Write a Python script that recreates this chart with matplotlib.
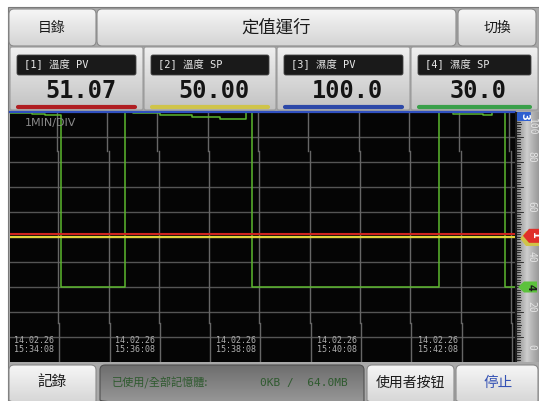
import numpy as np
import matplotlib
matplotlib.use('Agg')
import matplotlib.pyplot as plt
from matplotlib.patches import FancyBboxPatch, Polygon, Rectangle
from matplotlib.colors import LinearSegmentedColormap

plt.rcParams['font.family'] = ['DejaVu Sans', 'Noto Sans CJK TC']
MONO = ['DejaVu Sans Mono', 'Noto Sans CJK TC']
CJK = ['Noto Sans CJK TC', 'DejaVu Sans']

W, H = 539, 401

# ---- data ----
title = '定值運行'
btn_left, btn_right = '目錄', '切換'
ch_labels = ['[1] 溫度 PV', '[2] 溫度 SP', '[3] 濕度 PV', '[4] 濕度 SP']
ch_values = [51.07, 50.00, 100.0, 30.0]
ch_text = ['51.07', '50.00', '100.0', '30.0']
ch_colors = ['#b01e22', '#cfc44a', '#2c48a8', '#3aa04a']
ch_tags = ['1', '2', '3', '4']

# time axis in minutes from left edge of window, 1 min per division
t_end = 10.04
t_grid = [0.96, 1.96, 2.96, 3.96, 4.96, 5.96, 6.96, 7.96, 8.96, 9.96]
t_stamp = [0.08, 2.09, 4.10, 6.10, 8.11]
stamp_date = ['14.02.26'] * 5
stamp_time = ['15:34:08', '15:36:08', '15:38:08', '15:40:08', '15:42:08']

# constant traces
t_flat = [0, t_end]
temp_pv = [51.07, 51.07]
temp_sp = [50.0, 50.0]
hum_pv = [100.0, 100.0]

# stepping trace (steps-post)
t_step = [0, 0.44, 0.70, 1.02, 2.29, 2.45, 2.98, 3.62, 4.17, 4.69, 4.81,
          8.53, 8.81, 9.40, 9.58, 9.84, t_end]
v_step = [99.4, 99.0, 98.6, 30, 100, 99.4, 98.6, 98.0, 97.2, 100, 30,
          100, 99.2, 98.8, 100, 30, 30]

scale_labels = ['100', '80', '60', '40', '20', '0']
scale_vals = [100, 80, 60, 40, 20, 0]

mem_label = '已使用/全部記憶體:'
mem_value = '0KB /  64.0MB'
bottom_btns = ['記錄', '使用者按钮', '停止']


def gbox(ax, x, y, w, h, c1, c2, r=4, ec='#8a8a8a', lw=0.8, z=1):
    p = FancyBboxPatch((x + r, y + r), w - 2 * r, h - 2 * r,
                       boxstyle='round,pad=%g' % r, fc='none', ec=ec, lw=lw, zorder=z + 0.1)
    ax.add_patch(p)
    grad = np.linspace(0, 1, 64)[:, None]
    cm = LinearSegmentedColormap.from_list('g', [c1, c2])
    im = ax.imshow(grad, cmap=cm, extent=(x, x + w, y + h, y), aspect='auto',
                   zorder=z, interpolation='bilinear')
    im.set_clip_path(p)
    return p


fig = plt.figure(figsize=(W / 100, H / 100), dpi=100)
fig.patch.set_facecolor('white')
ui = fig.add_axes([0, 0, 1, 1])
ui.axis('off')

# frame
ui.add_patch(Rectangle((8, 7), W - 8, H - 7, fc='#a9a9a9', ec='#7a7a7a', lw=0.8, zorder=0))

# top row
gbox(ui, 9, 9, 87, 37, '#f6f6f6', '#d4d4d4', r=5)
gbox(ui, 97, 9, 359, 37, '#f6f6f6', '#d4d4d4', r=5)
gbox(ui, 458, 9, 78, 37, '#f6f6f6', '#d4d4d4', r=5)
ui.text(52, 28, btn_left, family=CJK, fontsize=10, ha='center', va='center', color='#1a1a1a', zorder=5)
ui.text(276, 28, title, family=CJK, fontsize=12.5, ha='center', va='center', color='#1a1a1a', zorder=5)
ui.text(497, 28, btn_right, family=CJK, fontsize=10, ha='center', va='center', color='#1a1a1a', zorder=5)

# channel panels
px0 = [10, 144, 277, 411]
pw = [133, 132, 133, 127]
for i in range(4):
    x = px0[i]
    gbox(ui, x, 47, pw[i], 63, '#f0f0f0', '#c2c2c2', r=2, ec='#9a9a9a')
    ui.add_patch(FancyBboxPatch((x + 9, 57), pw[i] - 18, 16, boxstyle='round,pad=2',
                                fc='#1a1a1a', ec='#444444', lw=0.6, zorder=3))
    ui.text(x + 14, 65, ch_labels[i], family=MONO, fontsize=7.5, color='#e8e8e8',
            ha='left', va='center', zorder=5)
    ui.text(x + pw[i] / 2 + 4, 91, ch_text[i], family='DejaVu Sans Mono', fontweight='bold',
            fontsize=17, color='#141414', ha='center', va='center', zorder=5)
    ui.plot([x + 8, x + pw[i] - 8], [106.5, 106.5], color=ch_colors[i], lw=3,
            solid_capstyle='round', zorder=4)

# bottom row
gbox(ui, 9, 365, 87, 40, '#f6f6f6', '#d4d4d4', r=5)
gbox(ui, 100, 365, 264, 40, '#6e6e6e', '#9a9a9a', r=5, ec='#505050')
gbox(ui, 367, 365, 87, 40, '#f6f6f6', '#d4d4d4', r=5)
gbox(ui, 456, 365, 82, 40, '#f6f6f6', '#d4d4d4', r=5)
ui.text(52, 383, bottom_btns[0], family=CJK, fontsize=10.5, ha='center', va='center', color='#1a1a1a', zorder=5)
ui.text(112, 383, mem_label, family=CJK, fontsize=8, ha='left', va='center', color='#2f5a2f', zorder=5)
ui.text(348, 383, mem_value, family='DejaVu Sans Mono', fontsize=8, ha='right', va='center', color='#2f5a2f', zorder=5)
ui.text(410, 383, bottom_btns[1], family=CJK, fontsize=10, ha='center', va='center', color='#1a1a1a', zorder=5)
ui.text(498, 383, bottom_btns[2], family=CJK, fontsize=10.5, ha='center', va='center', color='#3552b4', zorder=5)
ui.set_xlim(0, W)
ui.set_ylim(H, 0)

# ---- trend chart ----
cx0, cx1, cy0, cy1 = 10, 515, 112, 362
ch = fig.add_axes([cx0 / W, 1 - cy1 / H, (cx1 - cx0) / W, (cy1 - cy0) / H])
ch.set_facecolor('#050505')
for s in ch.spines.values():
    s.set_visible(False)
ch.set_xticks([])
ch.set_yticks([])
ch.set_xlim(0, t_end)
ch.set_ylim(0, 100)

for v in range(10, 100, 10):
    ch.axhline(v, color='#555555', lw=1, zorder=1)
# vertical grid drawn in three slightly offset bands (as on the screen)
bands = [(84.3, 100, -0.03), (15.7, 84.3, 0.0), (0, 15.7, 0.02)]
for lo, hi, off in bands:
    for t in t_grid:
        ch.plot([t + off, t + off], [lo, hi], color='#666666', lw=1, zorder=1)

ch.plot(t_step, v_step, drawstyle='steps-post', color='#5cb82e', lw=1.1, zorder=3)
ch.plot(t_flat, temp_sp, color='#e2d43a', lw=1.6, zorder=4)
ch.plot(t_flat, temp_pv, color='#d0241e', lw=1.5, zorder=5)
ch.plot(t_flat, hum_pv, color='#3050c0', lw=1.6, zorder=6, clip_on=False)

ch.text(0.3, 95.4, '1MIN/DIV', color='#8a8a8a', fontsize=8, ha='left', va='center', zorder=6)
for i in range(len(t_stamp)):
    ch.text(t_stamp[i], 8.6, stamp_date[i], family='DejaVu Sans Mono', fontsize=6,
            color='#b0b0b0', ha='left', va='center', zorder=6)
    ch.text(t_stamp[i], 5.1, stamp_time[i], family='DejaVu Sans Mono', fontsize=6,
            color='#b0b0b0', ha='left', va='center', zorder=6)

# ---- right scale ----
sc = fig.add_axes([cx1 / W, 1 - cy1 / H, (W - cx1) / W, (cy1 - cy0) / H])
sc.axis('off')
sc.set_xlim(0, 24)
sc.set_ylim(0, 100)
grad = np.linspace(0, 1, 64)[None, :]
cm = LinearSegmentedColormap.from_list('s', ['#6a6a6a', '#a8a8a8', '#cfcfcf', '#b2b2b2', '#9a9a9a'])
sc.imshow(grad, cmap=cm, extent=(0, 24, 0, 100), aspect='auto', zorder=0)
sc.plot([0.6, 0.6], [0, 100], color='#1a1a1a', lw=1.4, zorder=1)
for v in range(0, 101):
    ln = 7 if v % 10 == 0 else (5 if v % 5 == 0 else 3.5)
    sc.plot([1, 1 + ln], [v, v], color='#1e1e1e', lw=0.6, zorder=1)
for lab, v in zip(scale_labels, scale_vals):
    yy = min(max(v + 2, 6), 94)
    sc.text(16.5, yy, lab, rotation=270, fontsize=7, color='#e4e4e4', ha='center', va='center',
            family='DejaVu Sans Mono', zorder=2)
sc.set_xlim(0, 24)
sc.set_ylim(0, 100)

# ---- channel markers on the scale (pixel overlay) ----
ov = fig.add_axes([0, 0, 1, 1])
ov.axis('off')
ov.set_xlim(0, W)
ov.set_ylim(H, 0)


def vpx(v):
    return cy1 - v * (cy1 - cy0) / 100.0


def arrow(yc, tip, right, hh, fc, tag, tc, z):
    pts = [(tip, yc), (tip + 6, yc - hh), (right, yc - hh), (right, yc + hh), (tip + 6, yc + hh)]
    ov.add_patch(Polygon(pts, closed=True, fc=fc, ec='none', zorder=z))
    if tag:
        ov.text((tip + 6 + right) / 2, yc, tag, rotation=270, fontsize=7, fontweight='bold',
                color=tc, ha='center', va='center', zorder=z + 1)


arrow(vpx(ch_values[1]) + 1.5, 520, 541, 7.5, ch_colors[1], '', '#000', 10)
arrow(vpx(ch_values[0]) + 1.5, 523, 541, 7, '#e0302a', ch_tags[0], 'white', 11)
arrow(vpx(ch_values[3]), 518, 537, 5.5, '#5cc23c', ch_tags[3], '#1a1a1a', 12)
by = max(vpx(ch_values[2]), cy0 + 4.5)
ov.add_patch(FancyBboxPatch((518, by - 3.5), 12, 7, boxstyle='round,pad=1',
                            fc='#2f5fd0', ec='none', zorder=12))
ov.text(524, by, ch_tags[2], rotation=270, fontsize=7, fontweight='bold', color='white',
        ha='center', va='center', zorder=13)

fig.savefig('out.png', dpi=100, facecolor=fig.get_facecolor())
